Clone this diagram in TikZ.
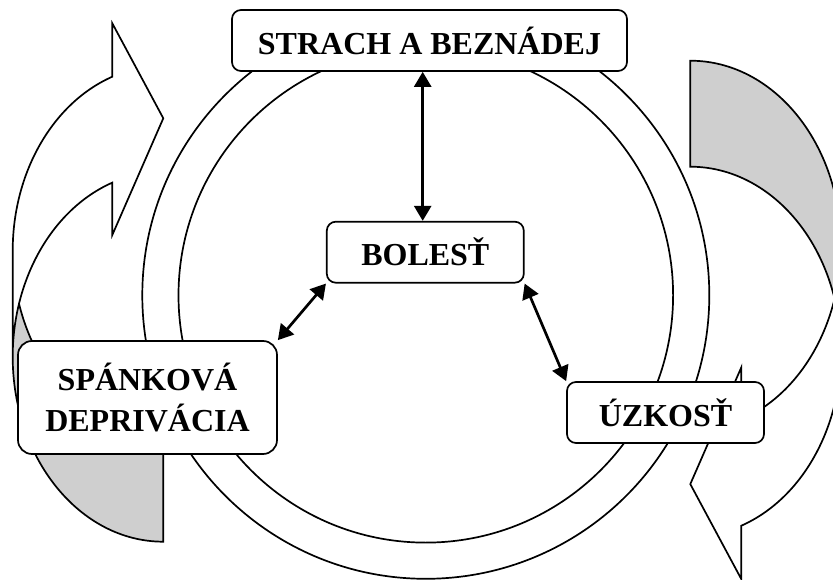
\documentclass[tikz,border=0pt]{standalone}
\usepackage{fontspec}
\setmainfont{Liberation Serif}
\usetikzlibrary{arrows.meta}
\definecolor{backgrey}{RGB}{207,207,207}
\tikzset{
  shapeline/.style={draw=black, line width=1.7pt, line join=miter},
  labelbox/.style={draw=black, line width=1.7pt, fill=white, rounded corners=9pt, inner sep=0pt,
    font=\fontsize{32}{40.7}\selectfont\bfseries, align=center},
  dbarrow/.style={line width=2.7pt, {Triangle[width=17pt,length=15pt]}-{Triangle[width=17pt,length=15pt]}},
  ell/.style={x radius=150.6pt, y radius=185pt}
}
\newcommand{\curvedarrowshape}{%
  \path[fill=white] (12.7,356.7) arc[start angle=180,end angle=109.8,ell]
    -- (112.3,235) -- (163.3,118.3) -- (112.3,23.3) -- (112.3,76.7)
    arc[start angle=109.8,end angle=180,ell] -- cycle;
  \path[fill=backgrey] (163.3,435.7) arc[start angle=270,end angle=196.65,ell]
    arc[start angle=163.35,end angle=270,ell] -- cycle;
  \draw[shapeline] (12.7,356.7) arc[start angle=180,end angle=109.8,ell]
    -- (112.3,235) -- (163.3,118.3) -- (112.3,23.3) -- (112.3,76.7)
    arc[start angle=109.8,end angle=180,ell] -- (12.7,356.7)
    arc[start angle=180,end angle=270,ell] -- (163.3,435.7)
    arc[start angle=270,end angle=196.65,ell];
}
\begin{document}
\begin{tikzpicture}[x=1pt,y=-1pt]
\useasboundingbox (0,0) rectangle (833,580);
\clip (0,0) rectangle (833,580);
% ring
\draw[shapeline] (425.8,295.3) circle[radius=283.5pt];
\draw[shapeline] (425.8,295.3) circle[radius=247.3pt];
% curved arrows
\curvedarrowshape
\begin{scope}[rotate around={180:(426.8,301.2)}]
\curvedarrowshape
\end{scope}
% boxes
\node[labelbox, minimum width=395pt, minimum height=61pt] (strach) at (429.5,40.5) {STRACH A BEZNÁDEJ};
\node[labelbox, minimum width=197pt, minimum height=61pt] (bol) at (425.3,252.2) {BOLESŤ};
\node[labelbox, rounded corners=14pt, minimum width=259pt, minimum height=113pt] (sd) at (147.5,397.5) {SPÁNKOVÁ\\DEPRIVÁCIA};
\node[labelbox, minimum width=197pt, minimum height=61pt] (uz) at (665.5,412.5) {ÚZKOSŤ};
% connectors
\coordinate (va) at (422.7,0);
\draw[dbarrow] (strach.south -| va) -- (bol.north -| va);
\draw[dbarrow] (bol.south west) -- (sd.north east);
\draw[dbarrow] (bol.south east) -- (uz.north west);
\end{tikzpicture}
\end{document}
